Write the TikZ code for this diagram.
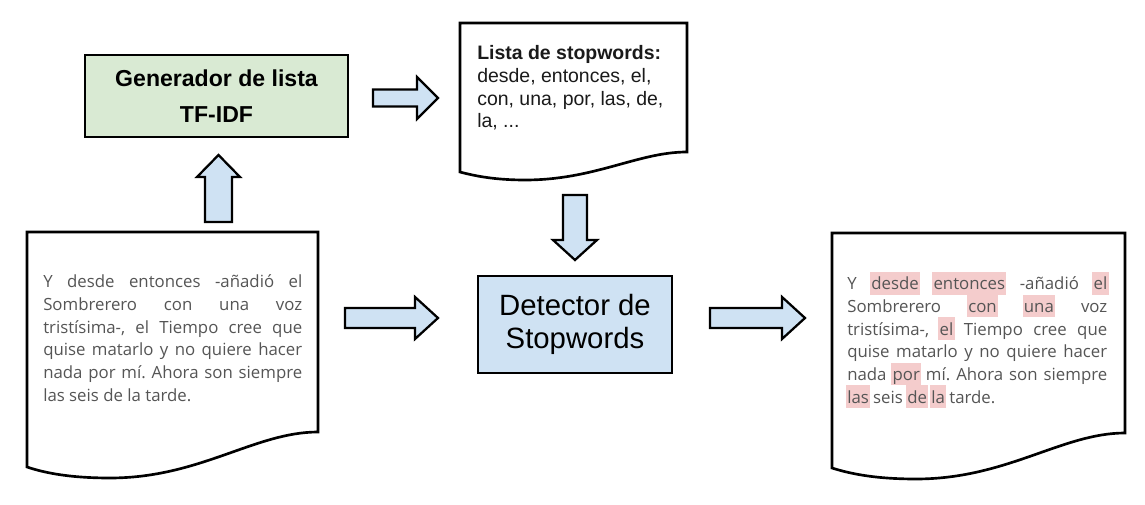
\documentclass[tikz,border=0pt]{standalone}
\usepackage{fontspec}
\setmainfont{Liberation Sans}
\newfontfamily\docfont{Open Sans}
\frenchspacing
\definecolor{genfill}{HTML}{D9EAD3}
\definecolor{detfill}{HTML}{CFE2F3}
\definecolor{arrfill}{HTML}{CFE2F3}
\definecolor{hlpink}{HTML}{F4CCCC}
\definecolor{doctext}{HTML}{555555}
\definecolor{listtext}{HTML}{1A1A1A}
\newlength\hlwd
\newcommand{\hlw}[1]{\settowidth{\hlwd}{#1}\makebox[0pt][l]{\hspace{-1pt}\textcolor{hlpink}{\rule[-3.4pt]{\dimexpr\hlwd+2pt\relax}{17pt}}}#1}
\newcommand{\jline}[1]{\makebox[\linewidth][s]{#1}}
\newcommand{\docpar}{\docfont\fontsize{12.6}{17}\selectfont\frenchspacing\lineskiplimit=-\maxdimen}
\begin{document}
\begin{tikzpicture}[x=0.75pt,y=-0.75pt,
  docline/.style={draw=black,line width=2pt,fill=white,line join=miter},
  blockarrow/.style={draw=black,line width=1.7pt,fill=arrfill,line join=miter},
  genbox/.style={draw=black,line width=1.7pt,fill=genfill,minimum width=197.25pt,minimum height=61.5pt,inner sep=0pt,align=center,font=\bfseries\fontsize{17.3}{27}\selectfont},
  detbox/.style={draw=black,line width=1.7pt,fill=detfill,minimum width=145.5pt,minimum height=72.75pt,inner sep=0pt,align=center,font=\fontsize{22}{25}\selectfont},
  doctxt/.style={anchor=base west,inner sep=0pt,text=doctext},
  listtxtstyle/.style={anchor=base west,inner sep=0pt,text=listtext}]
\fill[white] (0,0) rectangle (1145,505);
\useasboundingbox (0,0) rectangle (1145,505);

% documents
\draw[docline] (27,232) -- (318,232) -- (318,432) .. controls (255,432) and (200,478) .. (110,478) .. controls (70,478) and (45,473) .. (27,467) -- cycle;
\draw[docline] (832,233) -- (1125,233) -- (1125,433) .. controls (1062,433) and (1007,479) .. (916,479) .. controls (876,479) and (851,474) .. (832,468) -- cycle;
\draw[docline] (460,23) -- (687,23) -- (687,152) .. controls (638,152) and (595,180) .. (525,180) .. controls (495,180) and (475,176) .. (460,172) -- cycle;

% boxes
\node[genbox] (gen) at (216.5,96) {Generador de lista\\TF-IDF};
\node[detbox] (det) at (575,324.5) {Detector de\\Stopwords};

% texts
\node[doctxt] (intext) at (43,288) {\parbox[t]{194.25pt}{\docpar
\jline{Y desde entonces -añadió el}\\
\jline{Sombrerero con una voz}\\
\jline{tristísima-, el Tiempo cree que}\\
\jline{quise matarlo y no quiere hacer}\\
\jline{nada por mí. Ahora son siempre}\\
las seis de la tarde.}};

\node[doctxt] (outtext) at (847,290) {\parbox[t]{195pt}{\docpar
\jline{Y \hlw{desde} \hlw{entonces} -añadió \hlw{el}}\\
\jline{Sombrerero \hlw{con} \hlw{una} voz}\\
\jline{tristísima-, \hlw{el} Tiempo cree que}\\
\jline{quise matarlo y no quiere hacer}\\
\jline{nada \hlw{por} mí. Ahora son siempre}\\
\hlw{las} seis \hlw{de} \hlw{la} tarde.}};

\node[listtxtstyle] (listtxt) at (477,60) {\parbox[t]{160pt}{\fontsize{14.6}{17}\selectfont\lineskiplimit=-\maxdimen
\textbf{Lista de stopwords:}\\
desde, entonces, el,\\
con, una, por, las, de,\\
la, ...}};

% block arrows
\draw[blockarrow] (373,89.5) -- (417,89.5) -- (417,77) -- (438,98) -- (417,119) -- (417,106.5) -- (373,106.5) -- cycle;
\draw[blockarrow] (205,222) -- (205,177) -- (197,177) -- (218.5,155) -- (240,177) -- (232,177) -- (232,222) -- cycle;
\draw[blockarrow] (563,195) -- (587,195) -- (587,240) -- (597,240) -- (575,260) -- (553,240) -- (563,240) -- cycle;
\draw[blockarrow] (345,308) -- (415,308) -- (415,297) -- (438,318) -- (415,339) -- (415,328) -- (345,328) -- cycle;
\draw[blockarrow] (710,308) -- (782,308) -- (782,297) -- (805,318) -- (782,339) -- (782,328) -- (710,328) -- cycle;
\end{tikzpicture}
\end{document}
